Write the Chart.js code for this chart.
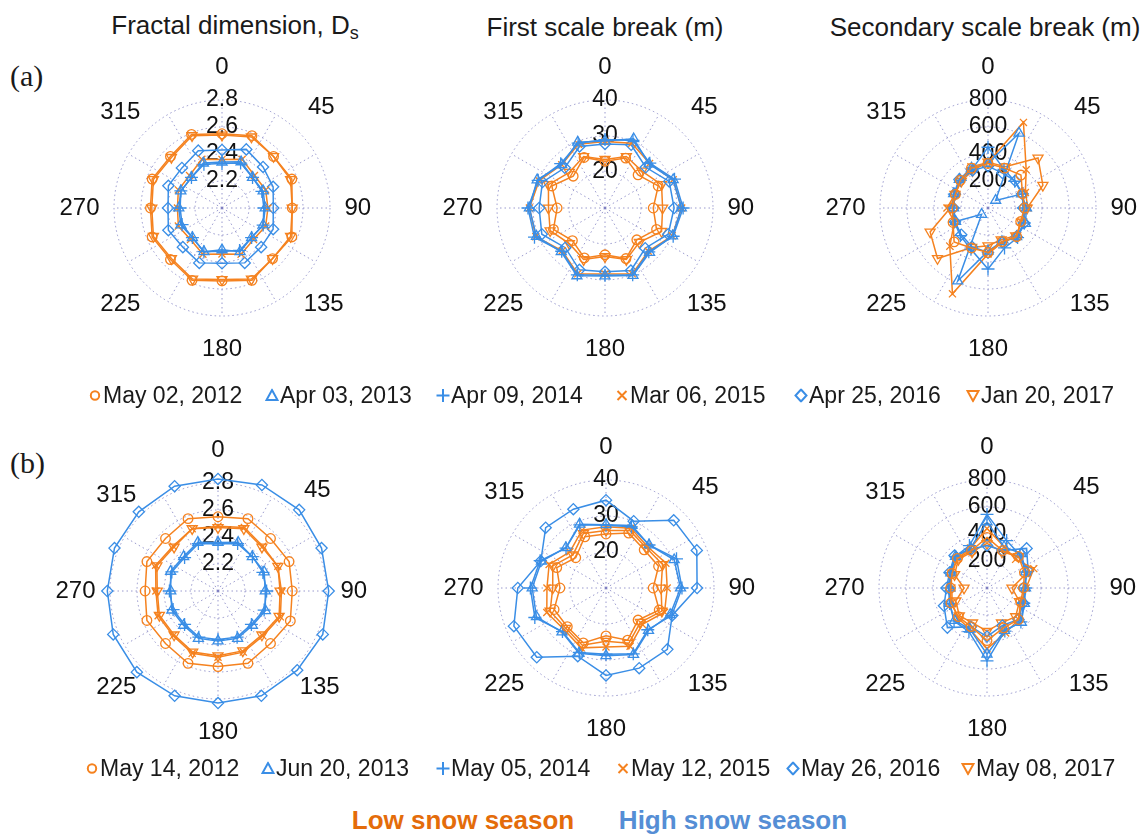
<!DOCTYPE html>
<html>
<head>
<meta charset="utf-8">
<script src="https://cdn.jsdelivr.net/npm/chart.js@4.4.1/dist/chart.umd.min.js"></script>
<style>
  html, body { margin: 0; padding: 0; background: #fff; }
  body { width: 1148px; height: 837px; position: relative; overflow: hidden;
         font-family: "Liberation Sans", Arial, sans-serif; color: #1a1a1a; }
  .title { position: absolute; font-size: 26px; white-space: nowrap; transform: translate(-50%, -50%); }
  .title sub { font-size: 18px; vertical-align: -5px; }
  .tag { position: absolute; font-family: "Liberation Serif", "Times New Roman", serif; font-size: 30px; transform: translateY(-50%); }
  .panel { position: absolute; width: 380px; height: 350px; }
  .leg { position: absolute; font-size: 23px; white-space: nowrap; transform: translateY(-50%); line-height: 1; }
  .leg svg { position: absolute; }
  .season { position: absolute; font-size: 26px; font-weight: bold; white-space: nowrap; transform: translate(-50%, -50%); }
</style>
</head>
<body>

<div class="title" style="left:235px; top:27px;">Fractal dimension, D<sub>s</sub></div>
<div class="title" style="left:605px; top:27px;">First scale break (m)</div>
<div class="title" style="left:985px; top:27px;">Secondary scale break (m)</div>
<div class="tag" style="left:10px; top:76px;">(a)</div>
<div class="tag" style="left:10px; top:463px;">(b)</div>

<div class="panel" id="p0"><canvas id="c0" width="380" height="350"></canvas></div>
<div class="panel" id="p1"><canvas id="c1" width="380" height="350"></canvas></div>
<div class="panel" id="p2"><canvas id="c2" width="380" height="350"></canvas></div>
<div class="panel" id="p3"><canvas id="c3" width="380" height="350"></canvas></div>
<div class="panel" id="p4"><canvas id="c4" width="380" height="350"></canvas></div>
<div class="panel" id="p5"><canvas id="c5" width="380" height="350"></canvas></div>

<div id="legendA"></div>
<div id="legendB"></div>

<div class="season" style="left:463px; top:820px; color:#E46C0A;">Low snow season</div>
<div class="season" style="left:733px; top:820px; color:#558ED5;">High snow season</div>

<script>
// Azimuth of each measurement (degrees clockwise from north)
const directions = [0, 22.5, 45, 67.5, 90, 112.5, 135, 157.5, 180, 202.5, 225, 247.5, 270, 292.5, 315, 337.5];
// Angle labels printed round each polar panel
const angleTicks = [0, 45, 90, 135, 180, 225, 270, 315];

// Acquisition dates, low snow season (a) and high snow season (b)
const datesA = ['May 02, 2012', 'Apr 03, 2013', 'Apr 09, 2014', 'Mar 06, 2015', 'Apr 25, 2016', 'Jan 20, 2017'];
const datesB = ['May 14, 2012', 'Jun 20, 2013', 'May 05, 2014', 'May 12, 2015', 'May 26, 2016', 'May 08, 2017'];

// Radial ranges and ring steps: fractal dimension, first break, secondary break
const fractalTicks = [2.0, 2.2, 2.4, 2.6, 2.8];
const firstBreakTicks = [10, 20, 30, 40];
const secondBreakTicks = [0, 200, 400, 600, 800];

// (a) Fractal dimension Ds
const fdA2012 = [2.55, 2.58, 2.54, 2.56, 2.52, 2.56, 2.53, 2.58, 2.54, 2.58, 2.54, 2.56, 2.53, 2.56, 2.54, 2.59];
const fdA2013 = [2.34, 2.37, 2.32, 2.33, 2.32, 2.33, 2.31, 2.35, 2.31, 2.35, 2.31, 2.33, 2.32, 2.33, 2.32, 2.36];
const fdA2014 = [2.33, 2.36, 2.32, 2.32, 2.31, 2.33, 2.31, 2.34, 2.32, 2.35, 2.31, 2.32, 2.31, 2.33, 2.32, 2.35];
const fdA2015 = [2.36, 2.39, 2.34, 2.35, 2.34, 2.35, 2.33, 2.37, 2.34, 2.37, 2.33, 2.35, 2.33, 2.35, 2.34, 2.39];
const fdA2016 = [2.43, 2.47, 2.43, 2.41, 2.38, 2.41, 2.41, 2.44, 2.41, 2.44, 2.41, 2.43, 2.40, 2.43, 2.42, 2.46];
const fdA2017 = [2.54, 2.57, 2.54, 2.55, 2.52, 2.55, 2.53, 2.57, 2.53, 2.57, 2.53, 2.55, 2.52, 2.55, 2.53, 2.58];

// (a) First scale break (m)
const fsA2012 = [23.0, 25.0, 23.0, 26.0, 23.4, 25.5, 22.5, 25.2, 23.0, 25.0, 22.8, 25.5, 23.3, 26.0, 22.5, 25.2];
const fsA2013 = [28.6, 30.8, 27.3, 30.5, 31.2, 30.3, 27.5, 30.3, 28.9, 30.4, 27.2, 30.6, 31.0, 30.4, 27.0, 29.8];
const fsA2014 = [29.0, 30.3, 27.6, 30.9, 31.7, 30.5, 27.2, 30.1, 28.7, 30.1, 27.0, 31.2, 31.4, 30.1, 27.4, 29.5];
const fsA2015 = [28.5, 29.5, 27.5, 30.5, 31.3, 30.2, 27.0, 29.8, 28.3, 29.8, 26.8, 30.8, 31.0, 29.8, 27.0, 29.2];
const fsA2016 = [27.8, 29.0, 26.0, 29.3, 29.2, 29.0, 25.8, 28.8, 27.7, 28.6, 25.6, 29.0, 28.3, 28.8, 25.8, 28.5];
const fsA2017 = [23.5, 25.5, 24.5, 27.0, 26.0, 27.0, 23.5, 25.5, 23.5, 25.5, 24.0, 26.5, 25.7, 27.0, 24.0, 25.5];

// (a) Secondary scale break (m)
const ssA2012 = [330, 320, 345, 277, 270, 262, 300, 270, 330, 320, 355, 280, 265, 262, 290, 320];
const ssA2013 = [330, 600, 80, 270, 285, 300, 300, 270, 320, 585, 67, 260, 255, 275, 300, 320];
const ssA2014 = [450, 310, 280, 275, 265, 290, 310, 320, 452, 330, 290, 270, 260, 270, 290, 310];
const ssA2015 = [338, 686, 400, 300, 296, 265, 300, 275, 340, 688, 400, 270, 304, 265, 290, 330];
const ssA2016 = [310, 280, 285, 275, 262, 290, 300, 275, 330, 310, 280, 265, 255, 265, 300, 300];
const ssA2017 = [340, 330, 524, 440, 290, 270, 290, 255, 280, 316, 529, 464, 280, 265, 280, 300];

// (b) Fractal dimension Ds
const fdB2012 = [2.55, 2.58, 2.55, 2.57, 2.55, 2.58, 2.55, 2.58, 2.56, 2.58, 2.55, 2.57, 2.54, 2.57, 2.55, 2.58];
const fdB2013 = [2.36, 2.39, 2.36, 2.37, 2.35, 2.38, 2.36, 2.38, 2.37, 2.38, 2.36, 2.37, 2.35, 2.38, 2.36, 2.39];
const fdB2014 = [2.35, 2.38, 2.36, 2.36, 2.36, 2.37, 2.35, 2.37, 2.36, 2.37, 2.35, 2.36, 2.36, 2.37, 2.35, 2.38];
const fdB2015 = [2.48, 2.51, 2.47, 2.48, 2.47, 2.50, 2.47, 2.49, 2.49, 2.50, 2.47, 2.48, 2.46, 2.50, 2.47, 2.50];
const fdB2016 = [2.83, 2.85, 2.85, 2.83, 2.82, 2.84, 2.83, 2.84, 2.83, 2.84, 2.85, 2.84, 2.82, 2.83, 2.83, 2.84];
const fdB2017 = [2.47, 2.50, 2.46, 2.48, 2.46, 2.49, 2.46, 2.48, 2.48, 2.49, 2.46, 2.47, 2.45, 2.49, 2.46, 2.50];

// (b) First scale break (m)
const fsB2012 = [25.0, 26.5, 25.0, 25.8, 23.1, 26.0, 22.6, 25.7, 23.3, 26.5, 25.2, 25.6, 22.8, 24.8, 21.9, 25.4];
const fsB2013 = [27.6, 28.8, 26.9, 30.5, 30.7, 29.3, 26.7, 30.0, 28.8, 29.6, 27.3, 30.9, 30.5, 29.4, 25.8, 29.2];
const fsB2014 = [27.4, 28.4, 26.9, 31.2, 31.1, 29.8, 26.4, 29.8, 28.4, 29.4, 27.1, 31.4, 31.0, 29.8, 25.7, 29.0];
const fsB2015 = [27.0, 28.0, 26.3, 28.0, 27.0, 27.6, 24.3, 27.5, 26.4, 28.0, 26.4, 27.8, 26.4, 27.1, 24.2, 27.4];
const fsB2016 = [34.4, 30.1, 36.6, 37.3, 35.3, 29.9, 34.1, 34.1, 34.3, 30.5, 37.2, 37.7, 34.5, 29.6, 33.7, 33.7];
const fsB2017 = [26.0, 27.3, 25.8, 27.0, 25.3, 26.8, 23.5, 26.6, 24.8, 27.2, 25.8, 26.8, 24.8, 26.0, 23.0, 26.4];

// (b) Secondary scale break (m)
const ssB2012 = [375, 300, 330, 300, 270, 270, 330, 320, 390, 310, 300, 290, 270, 280, 310, 300];
const ssB2013 = [490, 330, 360, 310, 285, 300, 360, 340, 490, 330, 340, 300, 275, 290, 330, 320];
const ssB2014 = [545, 380, 345, 310, 285, 295, 355, 345, 540, 350, 345, 300, 285, 295, 330, 340];
const ssB2015 = [440, 330, 300, 375, 290, 275, 330, 360, 450, 330, 310, 280, 260, 290, 310, 320];
const ssB2016 = [315, 300, 415, 330, 270, 290, 330, 300, 360, 310, 415, 345, 300, 300, 340, 310];
const ssB2017 = [330, 290, 330, 340, 185, 260, 300, 280, 320, 280, 290, 250, 170, 260, 300, 290];

// ---- drawing setup ----
const ORANGE = '#F5821F';
const BLUE = '#3A8EE6';
const GRID = 'rgba(120,120,190,0.75)';
const FONT = '"Liberation Sans", Arial, sans-serif';

// marker look per year, 2012 ... 2017
const MARKERS = [
  { color: ORANGE, style: 'circle',   radius: 4.8, rotation: 0 },
  { color: BLUE,   style: 'triangle', radius: 5.8, rotation: 0 },
  { color: BLUE,   style: 'cross',    radius: 6.5, rotation: 0 },
  { color: ORANGE, style: 'crossRot', radius: 5.0, rotation: 0 },
  { color: BLUE,   style: 'rectRot',  radius: 5.6, rotation: 0 },
  { color: ORANGE, style: 'triangle', radius: 5.8, rotation: 180 }
];

// the angular category axis runs every 7.5 deg so that spokes (30 deg),
// angle labels (45 deg) and measurements (22.5 deg) all fall on categories
const FINE = 7.5;
const nCat = 360 / FINE;
const catAngles = Array.from({ length: nCat }, (_, i) => i * FINE);

function spread(values) {
  const out = new Array(nCat).fill(null);
  values.forEach((v, k) => { out[Math.round(directions[k] / FINE)] = v; });
  return out;
}

const RADIUS = 108;

function makePanel(canvasId, cx, cy, ticks, fmt, seriesList, names) {
  const box = document.getElementById(canvasId).parentNode;
  box.style.left = (cx - 190) + 'px';
  box.style.top = (cy - 175) + 'px';
  const datasets = seriesList.map((vals, i) => {
    const m = MARKERS[i];
    return {
      label: names[i],
      data: spread(vals),
      borderColor: m.color,
      backgroundColor: 'rgba(0,0,0,0)',
      borderWidth: 1.5,
      fill: false,
      spanGaps: true,
      tension: 0,
      pointStyle: m.style,
      pointRadius: m.radius,
      pointRotation: m.rotation,
      pointBorderColor: m.color,
      pointBackgroundColor: 'rgba(0,0,0,0)',
      pointBorderWidth: 1.3
    };
  });
  return new Chart(document.getElementById(canvasId), {
    type: 'radar',
    data: { labels: catAngles, datasets },
    options: {
      responsive: false,
      animation: false,
      events: [],
      layout: { padding: 0 },
      plugins: { legend: { display: false }, tooltip: { enabled: false } },
      scales: {
        r: {
          min: ticks[0],
          max: ticks[ticks.length - 1],
          afterSetDimensions: (scale) => {
            scale.drawingArea = RADIUS;
            scale.xCenter = 190;
            scale.yCenter = 175;
          },
          ticks: {
            stepSize: ticks[1] - ticks[0],
            showLabelBackdrop: false,
            color: '#111',
            font: { family: FONT, size: 23 },
            callback: fmt
          },
          grid: { circular: true, color: GRID, lineWidth: 1 },
          border: { dash: [1.5, 3] },
          angleLines: {
            color: GRID,
            lineWidth: (ctx) => (ctx.index % 4 === 0 ? 1 : 0),
            borderDash: [1.5, 3]
          },
          pointLabels: {
            display: true,
            color: '#111',
            font: { family: FONT, size: 24 },
            padding: (ctx) => {
              const a = ctx.index * FINE;
              if (a % 180 === 0) return 5;
              if (a % 90 === 0) return 1;
              if (a === 45) return 0;
              return -6;
            },
            callback: (label) => (angleTicks.includes(label) ? String(label) : '')
          }
        }
      }
    }
  });
}

const fmt1 = (v) => v.toFixed(1);
const fmt0 = (v) => String(Math.round(v));

makePanel('c0', 222, 208, fractalTicks, fmt1, [fdA2012, fdA2013, fdA2014, fdA2015, fdA2016, fdA2017], datesA);
makePanel('c1', 605, 208, firstBreakTicks, fmt0, [fsA2012, fsA2013, fsA2014, fsA2015, fsA2016, fsA2017], datesA);
makePanel('c2', 988, 208, secondBreakTicks, fmt0, [ssA2012, ssA2013, ssA2014, ssA2015, ssA2016, ssA2017], datesA);
makePanel('c3', 218, 591, fractalTicks, fmt1, [fdB2012, fdB2013, fdB2014, fdB2015, fdB2016, fdB2017], datesB);
makePanel('c4', 606, 588, firstBreakTicks, fmt0, [fsB2012, fsB2013, fsB2014, fsB2015, fsB2016, fsB2017], datesB);
makePanel('c5', 987, 588, secondBreakTicks, fmt0, [ssB2012, ssB2013, ssB2014, ssB2015, ssB2016, ssB2017], datesB);

// ---- date legends with marker symbols ----
function markerSvg(i) {
  const m = MARKERS[i];
  const c = m.color;
  let shape = '';
  if (m.style === 'circle') shape = `<circle cx="7" cy="7" r="4.2" fill="none" stroke="${c}" stroke-width="2"/>`;
  else if (m.style === 'triangle' && m.rotation === 0) shape = `<polygon points="7,1.5 12.5,11.5 1.5,11.5" fill="none" stroke="${c}" stroke-width="2"/>`;
  else if (m.style === 'triangle') shape = `<polygon points="1.5,2.5 12.5,2.5 7,12.5" fill="none" stroke="${c}" stroke-width="2"/>`;
  else if (m.style === 'cross') shape = `<path d="M7 0.5 V13.5 M0.5 7 H13.5" stroke="${c}" stroke-width="2"/>`;
  else if (m.style === 'crossRot') shape = `<path d="M2.5 2.5 L11.5 11.5 M11.5 2.5 L2.5 11.5" stroke="${c}" stroke-width="2"/>`;
  else if (m.style === 'rectRot') shape = `<polygon points="7,1 12.5,7 7,13 1.5,7" fill="none" stroke="${c}" stroke-width="2"/>`;
  return `<svg width="14" height="14" viewBox="0 0 14 14" style="left:-15px; top:5px">${shape}</svg>`;
}

function buildLegend(id, names, textLefts, y) {
  const host = document.getElementById(id);
  names.forEach((name, i) => {
    const el = document.createElement('div');
    el.className = 'leg';
    el.style.left = textLefts[i] + 'px';
    el.style.top = y + 'px';
    el.innerHTML = markerSvg(i) + name;
    host.appendChild(el);
  });
}

buildLegend('legendA', datesA, [103, 280, 451, 630, 809, 981], 395);
buildLegend('legendB', datesB, [100, 276, 451, 631, 801, 976], 768);
</script>
</body>
</html>
